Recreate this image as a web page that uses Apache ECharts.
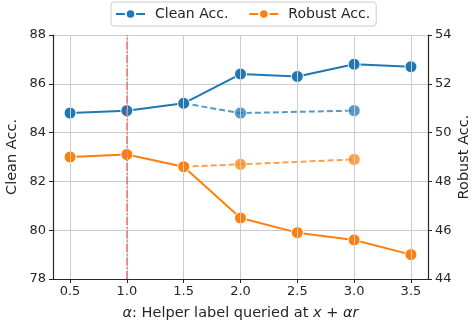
<!DOCTYPE html>
<html><head><meta charset="utf-8">
<script src="https://cdn.jsdelivr.net/npm/echarts@6/dist/echarts.min.js"></script>
<style>html,body{margin:0;padding:0;background:#fff}#c{width:472px;height:320px}</style>
</head><body><div id="c"></div>
<script>
const alphas = [0.5, 1.0, 1.5, 2.0, 2.5, 3.0, 3.5];
const cleanAcc = [84.8, 84.9, 85.2, 86.4, 86.3, 86.8, 86.7];
const robustAcc = [49.0, 49.1, 48.6, 46.5, 45.9, 45.6, 45.0];
const altAlphas = [1.5, 2.0, 3.0];
const cleanAlt = [85.2, 84.8, 84.9];
const robustAlt = [48.6, 48.7, 48.9];
const xTicks = [0.5, 1.0, 1.5, 2.0, 2.5, 3.0, 3.5];
const markAlpha = 1.0;

const FONT = 'DejaVu Sans';
const TXT = '#262626';
const pair = (xs, ys) => xs.map((x, i) => [x, ys[i]]);
const mk = (name, data, color, yIdx, dashed) => ({
  name, type: 'line', data, yAxisIndex: yIdx,
  symbol: 'circle', symbolSize: 12,
  lineStyle: {color, width: 2, type: dashed ? [6, 3] : 'solid', opacity: dashed ? 0.75 : 1},
  itemStyle: {color, borderColor: '#fff', borderWidth: 1, opacity: dashed ? 0.75 : 1},
  emphasis: {disabled: true}, z: dashed ? 3 : 4
});

const series = [
  mk('Clean Acc.', pair(alphas, cleanAcc), '#1f77b4', 0, false),
  mk('Robust Acc.', pair(alphas, robustAcc), '#ff7f0e', 1, false),
  mk('cleanAlt', pair(altAlphas, cleanAlt), '#1f77b4', 0, true),
  mk('robustAlt', pair(altAlphas, robustAlt), '#ff7f0e', 1, true),
  {
    name: 'grid', type: 'line', data: [], silent: true, z: 1,
    markLine: {
      silent: true, symbol: 'none', label: {show: false},
      lineStyle: {color: '#cccccc', width: 1, type: 'solid'},
      data: xTicks.map(v => ({xAxis: v, lineStyle: {color: '#cccccc', width: 1, type: 'solid'}}))
    }
  },
  {
    name: 'vline', type: 'line', data: [], silent: true, z: 2,
    color: '#ee7070',
    markLine: {
      silent: true, symbol: 'none', label: {show: false},
      lineStyle: {color: '#ee7070', width: 1.5, type: [8, 2, 1.5, 2]},
      data: [{xAxis: markAlpha, lineStyle: {color: '#ee7070', width: 1.5, type: [8, 2, 1.5, 2]}}]
    }
  }
];

const chart = echarts.init(document.getElementById('c'));
chart.setOption({
  animation: false,
  textStyle: {fontFamily: FONT},
  grid: {left: 53, right: 44, top: 35, bottom: 41, containLabel: false, outerBoundsMode: 'none'},
  legend: {
    data: ['Clean Acc.', 'Robust Acc.'], top: 2, left: 111,
    itemWidth: 29, itemHeight: 12, itemGap: 20,
    borderColor: '#cccccc', borderWidth: 1, borderRadius: 3,
    padding: [5, 6, 5, 4],
    textStyle: {fontFamily: FONT, fontSize: 14, color: TXT, padding: [0, 0, 0, 5]}
  },
  xAxis: {
    type: 'value', min: 0.35, max: 3.65,
    name: '{i|α}: Helper label queried at {i|x} + {i|αr}',
    nameLocation: 'middle', nameGap: 27, nameMoveOverlap: false,
    nameTextStyle: {fontFamily: FONT, fontSize: 14.5, color: TXT, rich: {i: {fontStyle: 'italic', fontFamily: FONT, fontSize: 14.5, color: TXT}}},
    axisLine: {show: true, lineStyle: {color: '#262626', width: 1.2}},
    axisTick: {show: true, length: 4, customValues: xTicks, lineStyle: {color: '#262626'}},
    axisLabel: {customValues: xTicks, formatter: v => v.toFixed(1), fontFamily: FONT, fontSize: 13, color: TXT, margin: 6},
    splitLine: {show: false}
  },
  yAxis: [
    {
      type: 'value', min: 78, max: 88, interval: 2, position: 'left',
      name: 'Clean Acc.', nameLocation: 'middle', nameGap: 33, nameMoveOverlap: false,
      nameTextStyle: {fontFamily: FONT, fontSize: 14.5, color: TXT},
      axisLine: {show: true, lineStyle: {color: '#262626', width: 1.2}},
      axisTick: {show: true, length: 4, lineStyle: {color: '#262626'}},
      axisLabel: {fontFamily: FONT, fontSize: 13, color: TXT, margin: 7},
      splitLine: {show: true, lineStyle: {color: '#cccccc', width: 1}}
    },
    {
      type: 'value', min: 44, max: 54, interval: 2, position: 'right',
      name: 'Robust Acc.', nameLocation: 'middle', nameGap: 29, nameMoveOverlap: false,
      nameTextStyle: {fontFamily: FONT, fontSize: 14.5, color: TXT},
      axisLine: {show: true, lineStyle: {color: '#262626', width: 1.2}},
      axisTick: {show: true, length: 4, lineStyle: {color: '#262626'}},
      axisLabel: {fontFamily: FONT, fontSize: 13, color: TXT, margin: 7},
      splitLine: {show: false}
    }
  ],
  series
});
</script></body></html>
